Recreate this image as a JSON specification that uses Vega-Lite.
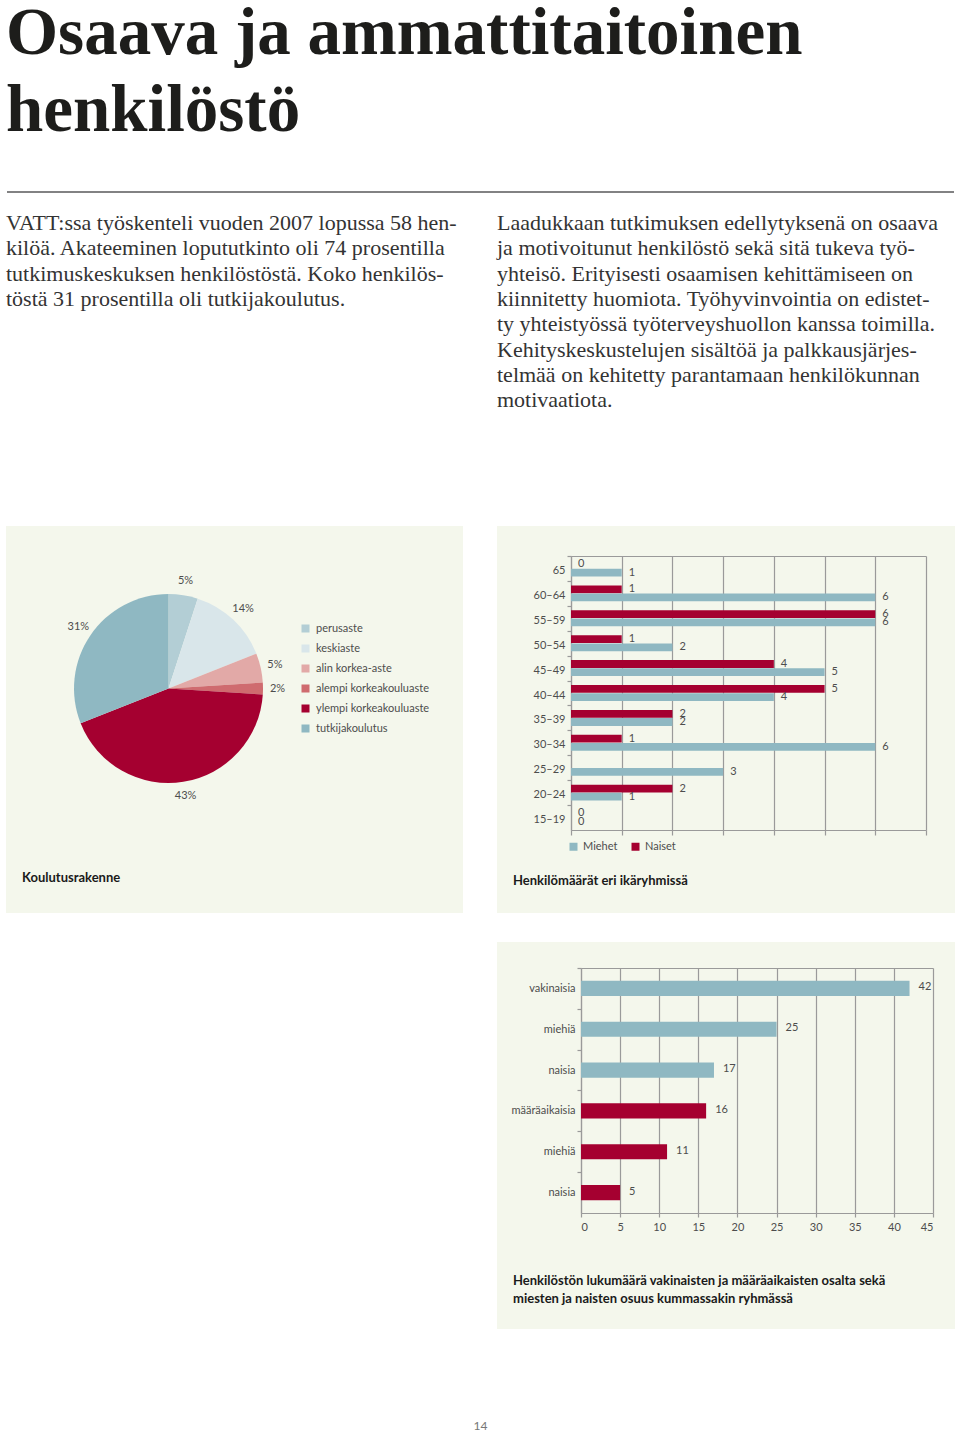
{
 "$schema": "https://vega.github.io/schema/vega-lite/v6.json",
 "background": "white",
 "padding": {"left": 6, "right": 5, "top": 0, "bottom": 0},
 "spacing": 0,
 "resolve": {"scale": {"color": "independent", "theta": "independent"}, "legend": {"color": "independent"}},
 "config": {
  "view": {"stroke": null},
  "font": "Lato",
  "axis": {"labelFont": "Lato", "labelFontSize": 11, "labelColor": "#4d4d4d", "domainColor": "#9a9a9a", "tickColor": "#9a9a9a", "gridColor": "#9a9a9a", "domainWidth": 1.2, "gridWidth": 1.2, "tickWidth": 1.2, "gridOpacity": 1},
  "legend": {"labelFont": "Lato", "labelFontSize": 11, "labelColor": "#4d4d4d", "symbolType": "square", "symbolStrokeWidth": 0, "symbolOpacity": 1, "padding": 0},
  "title": {"font": "Lato", "fontSize": 13, "fontWeight": "bold", "color": "#1a1a1a"}
 },
 "vconcat": [
  {
   "width": 949, "height": 188,
   "layer": [
    {
     "data": {"values": [{"line": 1, "text": "Osaava ja ammattitaitoinen"}, {"line": 2, "text": "henkilöstö"}]},
     "mark": {"type": "text", "align": "left", "baseline": "alphabetic", "font": "Liberation Serif", "fontSize": 67, "fontWeight": "bold", "color": "#1d1d1b"},
     "encoding": {
      "x": {"value": 0},
      "y": {"field": "line", "type": "quantitative", "scale": {"domain": [1, 2], "range": [50, 127], "nice": false, "zero": false}, "axis": null},
      "text": {"field": "text"}
     }
    },
    {
     "data": {"values": [{}]},
     "mark": {"type": "rule", "color": "#58585a", "strokeWidth": 1.4},
     "encoding": {"x": {"value": 1}, "x2": {"value": 948}, "y": {"value": "height"}}
    }
   ]
  },
  {
   "width": 949, "height": 333,
   "data": {"values": [
    {"col": "vasen", "line": 1, "text": "VATT:ssa työskenteli vuoden 2007 lopussa 58 hen-"},
    {"col": "vasen", "line": 2, "text": "kilöä. Akateeminen lopututkinto oli 74 prosentilla"},
    {"col": "vasen", "line": 3, "text": "tutkimuskeskuksen henkilöstöstä. Koko henkilös-"},
    {"col": "vasen", "line": 4, "text": "töstä 31 prosentilla oli tutkijakoulutus."},
    {"col": "oikea", "line": 1, "text": "Laadukkaan tutkimuksen edellytyksenä on osaava"},
    {"col": "oikea", "line": 2, "text": "ja motivoitunut henkilöstö sekä sitä tukeva työ-"},
    {"col": "oikea", "line": 3, "text": "yhteisö. Erityisesti osaamisen kehittämiseen on"},
    {"col": "oikea", "line": 4, "text": "kiinnitetty huomiota. Työhyvinvointia on edistet-"},
    {"col": "oikea", "line": 5, "text": "ty yhteistyössä työterveyshuollon kanssa toimilla."},
    {"col": "oikea", "line": 6, "text": "Kehityskeskustelujen sisältöä ja palkkausjärjes-"},
    {"col": "oikea", "line": 7, "text": "telmää on kehitetty parantamaan henkilökunnan"},
    {"col": "oikea", "line": 8, "text": "motivaatiota."}
   ]},
   "mark": {"type": "text", "align": "left", "baseline": "alphabetic", "font": "Liberation Serif", "fontSize": 22, "color": "#333333"},
   "encoding": {
    "x": {"field": "col", "type": "nominal", "scale": {"type": "point", "domain": ["vasen", "oikea"], "range": [0, 491], "padding": 0}, "axis": null},
    "y": {"field": "line", "type": "quantitative", "scale": {"domain": [1, 8], "range": [37, 214.1], "nice": false, "zero": false}, "axis": null},
    "text": {"field": "text"}
   }
  },
  {
   "resolve": {"scale": {"color": "independent", "theta": "independent"}, "legend": {"color": "independent"}},
   "hconcat": [
    {
     "width": 457, "height": 387,
     "view": {"fill": "#f4f7ec", "stroke": null},
     "title": {"text": "Koulutusrakenne", "orient": "bottom", "anchor": "start", "frame": "group", "offset": -41, "dx": 16},
     "data": {"values": [
      {"aste": "perusaste", "osuus": 0.05, "jarjestys": 1},
      {"aste": "keskiaste", "osuus": 0.14, "jarjestys": 2},
      {"aste": "alin korkea-aste", "osuus": 0.05, "jarjestys": 3},
      {"aste": "alempi korkeakouluaste", "osuus": 0.02, "jarjestys": 4},
      {"aste": "ylempi korkeakouluaste", "osuus": 0.43, "jarjestys": 5},
      {"aste": "tutkijakoulutus", "osuus": 0.31, "jarjestys": 6}
     ]},
     "encoding": {
      "theta": {"field": "osuus", "type": "quantitative", "stack": true},
      "order": {"field": "jarjestys", "type": "quantitative"},
      "x": {"value": 162.5},
      "y": {"value": 162.5}
     },
     "layer": [
      {
       "mark": {"type": "arc", "outerRadius": 94.5},
       "encoding": {
        "color": {"field": "aste", "type": "nominal",
         "scale": {"domain": ["perusaste", "keskiaste", "alin korkea-aste", "alempi korkeakouluaste", "ylempi korkeakouluaste", "tutkijakoulutus"],
                   "range": ["#b3ced5", "#d9e6ea", "#e2a9a7", "#cf6b6f", "#a50030", "#8fb8c2"]},
         "legend": {"orient": "none", "legendX": 294, "legendY": 97, "title": null, "symbolSize": 64, "rowPadding": 8, "labelOffset": 5}}
       }
      },
      {
       "mark": {"type": "text", "radius": 109, "fontSize": 11, "color": "#4d4d4d"},
       "encoding": {"text": {"field": "osuus", "type": "quantitative", "format": ".0%"}}
      }
     ]
    },
    {
     "resolve": {"scale": {"color": "independent"}, "legend": {"color": "independent"}},
     "vconcat": [
      {
       "width": 458, "height": 387,
       "view": {"fill": "#f4f7ec", "stroke": null},
       "title": {"text": "Henkilömäärät eri ikäryhmissä", "orient": "bottom", "anchor": "start", "frame": "group", "offset": -38, "dx": 16},
       "data": {"values": [
        {"ika": "65", "sukupuoli": "Naiset", "lkm": 0},
        {"ika": "65", "sukupuoli": "Miehet", "lkm": 1},
        {"ika": "60–64", "sukupuoli": "Naiset", "lkm": 1},
        {"ika": "60–64", "sukupuoli": "Miehet", "lkm": 6},
        {"ika": "55–59", "sukupuoli": "Naiset", "lkm": 6},
        {"ika": "55–59", "sukupuoli": "Miehet", "lkm": 6},
        {"ika": "50–54", "sukupuoli": "Naiset", "lkm": 1},
        {"ika": "50–54", "sukupuoli": "Miehet", "lkm": 2},
        {"ika": "45–49", "sukupuoli": "Naiset", "lkm": 4},
        {"ika": "45–49", "sukupuoli": "Miehet", "lkm": 5},
        {"ika": "40–44", "sukupuoli": "Naiset", "lkm": 5},
        {"ika": "40–44", "sukupuoli": "Miehet", "lkm": 4},
        {"ika": "35–39", "sukupuoli": "Naiset", "lkm": 2},
        {"ika": "35–39", "sukupuoli": "Miehet", "lkm": 2},
        {"ika": "30–34", "sukupuoli": "Naiset", "lkm": 1},
        {"ika": "30–34", "sukupuoli": "Miehet", "lkm": 6},
        {"ika": "25–29", "sukupuoli": "Miehet", "lkm": 3},
        {"ika": "20–24", "sukupuoli": "Naiset", "lkm": 2},
        {"ika": "20–24", "sukupuoli": "Miehet", "lkm": 1},
        {"ika": "15–19", "sukupuoli": "Naiset", "lkm": 0},
        {"ika": "15–19", "sukupuoli": "Miehet", "lkm": 0}
       ]},
       "encoding": {
        "y": {"field": "ika", "type": "nominal",
         "scale": {"domain": ["65", "60–64", "55–59", "50–54", "45–49", "40–44", "35–39", "30–34", "25–29", "20–24", "15–19"], "range": [30, 304], "paddingInner": 0.36, "paddingOuter": 0.18},
         "axis": {"orient": "left", "offset": -74, "title": null, "tickSize": 4, "tickOffset": -12.45, "labelPadding": 2, "labelOffset": 14.5, "grid": false}},
        "yOffset": {"field": "sukupuoli", "type": "nominal", "scale": {"domain": ["Naiset", "Miehet"], "paddingInner": 0.05}}
       },
       "resolve": {"axis": {"x": "independent"}},
       "layer": [
        {
         "mark": {"type": "bar"},
         "encoding": {
          "x": {"field": "lkm", "type": "quantitative", "scale": {"domain": [0, 7], "range": [74, 429], "nice": false},
           "axis": {"orient": "bottom", "offset": -83, "title": null, "values": [0, 1, 2, 3, 4, 5, 6, 7], "labels": false, "grid": false, "tickSize": 5}},
          "color": {"field": "sukupuoli", "type": "nominal", "scale": {"domain": ["Miehet", "Naiset"], "range": ["#8fb8c2", "#a50030"]},
           "legend": {"orient": "none", "direction": "horizontal", "legendX": 71, "legendY": 315, "title": null, "symbolSize": 64, "columnPadding": 12, "labelOffset": 4}}
         }
        },
        {
         "mark": {"type": "text", "align": "left", "baseline": "middle", "dx": 7, "fontSize": 11, "color": "#4d4d4d"},
         "encoding": {
          "x": {"field": "lkm", "type": "quantitative", "scale": {"domain": [0, 7], "range": [74, 429], "nice": false},
           "axis": {"orient": "top", "offset": -30, "title": null, "values": [0, 1, 2, 3, 4, 5, 6, 7], "labels": false, "ticks": false, "grid": true}},
          "text": {"field": "lkm", "type": "quantitative"}
         }
        }
       ]
      },
      {
       "width": 458, "height": 387,
       "view": {"fill": "#f4f7ec", "stroke": null},
       "title": {"text": ["Henkilöstön lukumäärä vakinaisten ja määräaikaisten osalta sekä", "miesten ja naisten osuus kummassakin ryhmässä"], "orient": "bottom", "anchor": "start", "frame": "group", "offset": -54, "dx": 16, "lineHeight": 18},
       "data": {"values": [
        {"rivi": "1 vakinaisia", "ryhma": "vakinaiset", "lkm": 42},
        {"rivi": "2 miehiä", "ryhma": "vakinaiset", "lkm": 25},
        {"rivi": "3 naisia", "ryhma": "vakinaiset", "lkm": 17},
        {"rivi": "4 määräaikaisia", "ryhma": "määräaikaiset", "lkm": 16},
        {"rivi": "5 miehiä", "ryhma": "määräaikaiset", "lkm": 11},
        {"rivi": "6 naisia", "ryhma": "määräaikaiset", "lkm": 5}
       ]},
       "encoding": {
        "y": {"field": "rivi", "type": "nominal",
         "scale": {"domain": ["1 vakinaisia", "2 miehiä", "3 naisia", "4 määräaikaisia", "5 miehiä", "6 naisia"], "range": [26, 271], "paddingInner": 0.63, "paddingOuter": 0.315},
         "axis": {"orient": "left", "offset": -84, "title": null, "tickSize": 4, "tickOffset": -20.42, "labelPadding": 2, "labelOffset": 20.4, "grid": false, "labelExpr": "substring(datum.label, 2)"}}
       },
       "resolve": {"axis": {"x": "independent"}},
       "layer": [
        {
         "mark": {"type": "bar"},
         "encoding": {
          "x": {"field": "lkm", "type": "quantitative", "scale": {"domain": [0, 45], "range": [84, 436], "nice": false},
           "axis": {"orient": "bottom", "offset": -116, "title": null, "values": [0, 5, 10, 15, 20, 25, 30, 35, 40, 45], "grid": false, "tickSize": 4, "labelPadding": 4}},
          "color": {"field": "ryhma", "type": "nominal", "scale": {"domain": ["vakinaiset", "määräaikaiset"], "range": ["#8fb8c2", "#a50030"]}, "legend": null}
         }
        },
        {
         "mark": {"type": "text", "align": "left", "baseline": "middle", "dx": 9, "dy": -1, "fontSize": 11, "color": "#4d4d4d"},
         "encoding": {
          "x": {"field": "lkm", "type": "quantitative", "scale": {"domain": [0, 45], "range": [84, 436], "nice": false},
           "axis": {"orient": "top", "offset": -26, "title": null, "values": [0, 5, 10, 15, 20, 25, 30, 35, 40, 45], "labels": false, "ticks": false, "grid": true}},
          "text": {"field": "lkm", "type": "quantitative"}
         }
        }
       ]
      }
     ],
     "spacing": 29
    }
   ],
   "spacing": 34
  },
  {
   "width": 949, "height": 104,
   "data": {"values": [{"sivu": "14"}]},
   "mark": {"type": "text", "align": "center", "baseline": "middle", "fontSize": 12, "color": "#777777"},
   "encoding": {"text": {"field": "sivu"}, "y": {"value": 97}}
  }
 ]
}
